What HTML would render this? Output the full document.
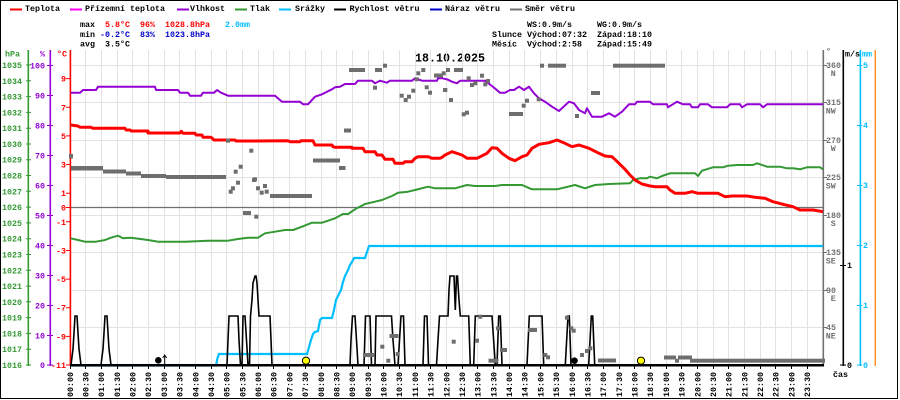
<!DOCTYPE html>
<html><head><meta charset="utf-8"><style>
html,body{margin:0;padding:0;background:#fff;}
svg{display:block;}
text{font-family:"Liberation Mono",monospace;font-size:8.33px;font-weight:bold;}
</style></head><body>
<svg width="900" height="400" viewBox="0 0 900 400" xmlns="http://www.w3.org/2000/svg">
<rect x="0" y="0" width="900" height="400" fill="#fff"/>
<!-- border -->
<rect x="0" y="0" width="898" height="1" fill="#000"/>
<rect x="0" y="0" width="1" height="399" fill="#000"/>
<rect x="897" y="0" width="1" height="399" fill="#000"/>
<rect x="0" y="398" width="898" height="1" fill="#000"/>

<!-- legend -->
<g>
<rect x="10" y="8.5" width="12" height="2" fill="#ff0000"/><text x="25" y="11">Teplota</text>
<rect x="70" y="8.5" width="12" height="2" fill="#ff00ff"/><text x="85" y="11">Přízemní teplota</text>
<rect x="177" y="8.5" width="12" height="2" fill="#9400d3"/><text x="190" y="11">Vlhkost</text>
<rect x="235" y="8.5" width="12" height="2" fill="#339933"/><text x="250" y="11">Tlak</text>
<rect x="279" y="8.5" width="12" height="2" fill="#00bfff"/><text x="295" y="11">Srážky</text>
<rect x="334" y="8.5" width="12" height="2" fill="#000000"/><text x="349.5" y="11">Rychlost větru</text>
<rect x="430" y="8.5" width="12" height="2" fill="#0000cc"/><text x="445" y="11">Náraz větru</text>
<rect x="510" y="8.5" width="12" height="2" fill="#707070"/><text x="525" y="11">Směr větru</text>
</g>

<!-- info -->
<text x="80" y="27">max</text>
<text x="105" y="27" fill="#ff0000">5.8°C</text>
<text x="140" y="27" fill="#ff0000">96%</text>
<text x="165" y="27" fill="#ff0000">1028.8hPa</text>
<text x="225" y="27" fill="#00bfff">2.0mm</text>
<text x="80" y="37">min</text>
<text x="100" y="37" fill="#0000cc">-0.2°C</text>
<text x="140" y="37" fill="#0000cc">83%</text>
<text x="165" y="37" fill="#0000cc">1023.8hPa</text>
<text x="80" y="46.5">avg</text>
<text x="105" y="46.5">3.5°C</text>

<text x="527" y="27">WS:0.9m/s</text>
<text x="597" y="27">WG:0.9m/s</text>
<text x="492" y="37">Slunce</text>
<text x="527" y="37">Východ:07:32</text>
<text x="597" y="37">Západ:18:10</text>
<text x="492" y="46.5">Měsíc</text>
<text x="527" y="46.5">Východ:2:58</text>
<text x="597" y="46.5">Západ:15:49</text>

<!-- title -->
<text x="415" y="61.5" style="font-size:11.67px;font-weight:bold">18.10.2025</text>

<!-- vertical grid -->
<path fill="none" stroke="#e2e2e2" stroke-width="1" d="M85.5 50V364M101.5 50V364M117.5 50V364M132.5 50V364M148.5 50V364M164.5 50V364M179.5 50V364M195.5 50V364M211.5 50V364M226.5 50V364M242.5 50V364M258.5 50V364M273.5 50V364M289.5 50V364M305.5 50V364M321.5 50V364M336.5 50V364M352.5 50V364M368.5 50V364M383.5 50V364M399.5 50V364M415.5 50V364M430.5 50V364M446.5 50V364M462.5 50V364M477.5 50V364M493.5 50V364M509.5 50V364M524.5 50V364M540.5 50V364M556.5 50V364M572.5 50V364M587.5 50V364M603.5 50V364M619.5 50V364M634.5 50V364M650.5 50V364M666.5 50V364M681.5 50V364M697.5 50V364M713.5 50V364M728.5 50V364M744.5 50V364M760.5 50V364M775.5 50V364M791.5 50V364M807.5 50V364"/>
<!-- horizontal grid -->
<path fill="none" stroke="#e2e2e2" stroke-width="1" d="M71 65.5H823M71 102.5H823M71 140.5H823M71 177.5H823M71 215.5H823M71 252.5H823M71 290.5H823M71 327.5H823"/>
<!-- 0 C line -->
<path d="M71 207.5H823" stroke="#707070" stroke-width="1.2"/>

<!-- left axes -->
<rect x="27.5" y="50" width="1.6" height="316" fill="#339933"/>
<rect x="49.5" y="50" width="1.6" height="316" fill="#9400d3"/>
<rect x="69.6" y="50" width="1.6" height="316" fill="#ff0000"/>
<path stroke="#339933" stroke-width="1" d="M26 65H31M26 80.8H31M26 96.6H31M26 112.4H31M26 128.2H31M26 144H31M26 159.7H31M26 175.5H31M26 191.3H31M26 207.1H31M26 222.9H31M26 238.7H31M26 254.5H31M26 270.3H31M26 286.1H31M26 301.8H31M26 317.6H31M26 333.4H31M26 349.2H31M26 365H31"/>
<path stroke="#9400d3" stroke-width="1" d="M47 65.5H53M47 95.5H53M47 125.5H53M47 155.5H53M47 185.5H53M47 215.5H53M47 245.5H53M47 275.5H53M47 305.5H53M47 335.5H53M47 365H53"/>
<path stroke="#ff0000" stroke-width="1" d="M66 78.6H70M66 107.3H70M66 135.9H70M66 164.5H70M66 193.2H70M66 207.5H70M66 221.8H70M66 250.5H70M66 279.1H70M66 307.7H70M66 336.4H70M66 365H70"/>

<text x="5" y="56.5" fill="#339933">hPa</text>
<text x="40" y="56.5" fill="#9400d3">%</text>
<text x="57" y="56.5" fill="#ff0000">°C</text>

<g fill="#339933" text-anchor="end">
<text x="22" y="68">1035</text><text x="22" y="83.8">1034</text><text x="22" y="99.6">1033</text><text x="22" y="115.4">1032</text><text x="22" y="131.2">1031</text><text x="22" y="147">1030</text><text x="22" y="162.7">1029</text><text x="22" y="178.5">1028</text><text x="22" y="194.3">1027</text><text x="22" y="210.1">1026</text><text x="22" y="225.9">1025</text><text x="22" y="241.7">1024</text><text x="22" y="257.5">1023</text><text x="22" y="273.3">1022</text><text x="22" y="289.1">1021</text><text x="22" y="304.8">1020</text><text x="22" y="320.6">1019</text><text x="22" y="336.4">1018</text><text x="22" y="352.2">1017</text><text x="22" y="368">1016</text>
</g>
<g fill="#9400d3" text-anchor="end">
<text x="45" y="68.5">100</text><text x="45" y="98.5">90</text><text x="45" y="128.5">80</text><text x="45" y="158.5">70</text><text x="45" y="188.5">60</text><text x="45" y="218.5">50</text><text x="45" y="248.5">40</text><text x="45" y="278.5">30</text><text x="45" y="308.5">20</text><text x="45" y="338.5">10</text><text x="45" y="368">0</text>
</g>
<g fill="#ff0000" text-anchor="end">
<text x="66" y="81.6">9</text><text x="66" y="110.3">7</text><text x="66" y="138.9">5</text><text x="66" y="167.5">3</text><text x="66" y="196.2">1</text><text x="66" y="210.5">0</text><text x="66" y="224.8">-1</text><text x="66" y="253.5">-3</text><text x="66" y="282.1">-5</text><text x="66" y="310.7">-7</text><text x="66" y="339.4">-9</text><text x="66" y="368">-11</text>
</g>

<!-- right axes -->
<rect x="822.5" y="50" width="1.6" height="316" fill="#707070"/>
<rect x="842.5" y="50" width="1.6" height="316" fill="#000"/>
<rect x="859.6" y="50" width="1.6" height="316" fill="#00bfff"/>
<rect x="874.6" y="50" width="1.4" height="316" fill="#ff8c1a"/>
<path stroke="#707070" stroke-width="1" d="M823 65.5H827M823 102.5H827M823 140.5H827M823 177.5H827M823 215.5H827M823 252.5H827M823 290.5H827M823 327.5H827"/>
<path stroke="#000" stroke-width="1" d="M840 265.5H846M840 365H846"/>
<path stroke="#00bfff" stroke-width="1" d="M857 65.5H862M857 125.5H862M857 185.5H862M857 245.5H862M857 305.5H862M857 365H862"/>
<text x="826" y="54" fill="#707070">°</text>
<text x="845" y="56.5">m/s</text>
<text x="862" y="56.5" fill="#00bfff">mm</text>
<g fill="#707070">
<text x="826" y="68">360</text><text x="835.8" y="76" text-anchor="end">N</text>
<text x="826" y="105">315</text><text x="835.8" y="113.5" text-anchor="end">NW</text>
<text x="826" y="143">270</text><text x="835.8" y="151" text-anchor="end">W</text>
<text x="826" y="180">225</text><text x="835.8" y="188.5" text-anchor="end">SW</text>
<text x="826" y="218">180</text><text x="835.8" y="226" text-anchor="end">S</text>
<text x="826" y="255">135</text><text x="835.8" y="263.5" text-anchor="end">SE</text>
<text x="826" y="293">90</text><text x="835.8" y="301" text-anchor="end">E</text>
<text x="826" y="330">45</text><text x="835.8" y="338.5" text-anchor="end">NE</text>
</g>
<text x="847" y="268">1</text>
<text x="847" y="368">0</text>
<g fill="#00bfff">
<text x="863" y="68">5</text><text x="863" y="128">4</text><text x="863" y="188">3</text><text x="863" y="248">2</text><text x="863" y="308">1</text><text x="863" y="368">0</text>
</g>
<text x="833" y="377">čas</text>

<!-- data: pressure -->
<polyline fill="none" stroke="#339933" stroke-width="2" stroke-linejoin="round" points="70.7,238.3 78,240 85,241.7 96,241.7 105,240 111,237.7 118,235.7 123,238.3 131,237.7 148,240 158,241.7 185,241.7 208,240.7 228,240.7 238,239 248,237.7 258,237.7 265,233.3 275,231.7 285,230 293,230 302,226.7 312,222.7 322,222.7 335,218.3 343,214 348,214 355,209.3 365,204 375,201.7 382,200 392,196 398,192.7 408,191.7 415,190 428,186.7 435,188.3 455,188.3 467,185 475,186 495,186 502,185 522,185 532,189.3 557,189.3 575,185 585,188.3 595,185 609,184 630,183.3 633,180 640,178.3 647,178.3 650,176.7 657,178.3 662,176 670,173.3 695,173.3 698,176 702,170.7 713,167.3 723,167.3 728,165.7 737,165 753,165 757,163.3 767,166.7 780,166.7 787,168.3 793,168.3 800,169.3 807,167.3 820,167.3 823,169.3"/>
<!-- humidity -->
<polyline fill="none" stroke="#9400d3" stroke-width="2" stroke-linejoin="round" points="70.7,92.7 80,92.7 83,90 96,90 98,86.7 155,86.7 156,90 178,90 180,92.7 188,92.7 190,95.7 201,95.7 203,92.7 214,92.7 217,90 221,92.7 228,95.7 275,95.7 282,101.7 300,101.7 303,104.3 308,104.3 315,96.7 322,94.3 327,91.7 332,89.3 335,87.3 340,86.7 345,84 355,84 358,80.7 372,80.7 375,83.3 380,80.7 387,82.7 390,80.7 412,80.7 415,78.3 422,80.7 437,80.7 438,78.3 442,78.3 447,79.3 452,81.7 457,83.3 460,80.7 485,80.7 492,86 500,92.7 505,92.7 510,90 514,90 519,86.7 524,90 529,86.7 534,93.3 539,98.3 545,101.7 552,106.7 559,111 569,101.7 574,103.3 579,110 585,113.3 587,108.3 592,116.7 602,116.7 609,113.3 615,116.7 622,111.7 629,104.3 635,104.3 637,101.7 650,101.7 653,104.3 667,104.3 668,107.3 677,101.7 683,104.3 690,104.3 692,107.3 698,107.3 700,104.3 708,104.3 712,107.3 727,107.3 730,104.3 740,104.3 742,107.3 747,104.3 760,104.3 763,107.3 767,104.3 823,104.3"/>
<!-- temperature -->
<polyline fill="none" stroke="#ff0000" stroke-width="3" stroke-linejoin="round" points="70.7,125 78,126 80,127.3 91,127.3 93,128.3 125,128.3 126,130 130,130 131.3,131 148,131 148,133 180,133 181.3,131.3 183,133.3 195,133.3 196,135 202,135 203,137.3 211,137.3 214,140 235,140 236,141 255,141 288,140.7 290,141.7 300,141.7 301,140.7 313,140.7 315,145 332,145 333,146.7 335,147.3 352,147.3 352,148.3 363,148.3 365,151.7 375,151.7 377,155 382,155 385,159.3 393,159.3 395,163.3 403,163.3 405,161.7 412,161.7 415,158.3 418,156.7 428,156.7 432,158.3 440,158.3 442,157.3 445,155 452,151.7 462,155 467,158.3 477,158.3 487,153.3 492,147.7 497,148.3 502,153.3 509,158.3 515,160.7 522,156.7 527,155 532,148.3 539,144.3 549,142.7 557,140 565,143.3 572,146.7 579,145 589,148.3 599,153.3 605,156 612,156.7 619,163.3 625,169.3 630,175 635,180 642,184 650,186 655,186.7 667,186.7 670,190 675,193.3 685,193.3 692,191.7 698,193.3 718,193.3 725,196.7 732,196 747,196 755,197.3 765,198.3 773,201.7 783,204.3 793,206.7 800,210 813,210 823,211.7"/>
<!-- rain -->
<polyline fill="none" stroke="#00bfff" stroke-width="2.2" points="71,365.5 216,365.5 217.5,358 219,354 307,354 309,347 311,340 313,334 315,332 318,331 320,320 322,318 332,318 334,310 336,300 338,296 341,290 343,282 345,276 348,270 350,265 352,262 354,258 365,258 367,252 369,246 823,246"/>

<!-- x axis -->
<rect x="70" y="364" width="754" height="2.5" fill="#000"/>
<path stroke="#000" stroke-width="1" d="M70.5 366V369M85.5 366V369M101.5 366V369M117.5 366V369M132.5 366V369M148.5 366V369M164.5 366V369M179.5 366V369M195.5 366V369M211.5 366V369M226.5 366V369M242.5 366V369M258.5 366V369M273.5 366V369M289.5 366V369M305.5 366V369M321.5 366V369M336.5 366V369M352.5 366V369M368.5 366V369M383.5 366V369M399.5 366V369M415.5 366V369M430.5 366V369M446.5 366V369M462.5 366V369M477.5 366V369M493.5 366V369M509.5 366V369M524.5 366V369M540.5 366V369M556.5 366V369M572.5 366V369M587.5 366V369M603.5 366V369M619.5 366V369M634.5 366V369M650.5 366V369M666.5 366V369M681.5 366V369M697.5 366V369M713.5 366V369M728.5 366V369M744.5 366V369M760.5 366V369M775.5 366V369M791.5 366V369M807.5 366V369"/>

<!-- wind speed -->
<polyline fill="none" stroke="#000" stroke-width="1.6" points="70.5,365 71,365 72,357 73,349 74,333 75,316 77,316 78,333 79,349 80,357 81,365 101,365 102,357 103,349 104,333 105,316 107,316 108,333 109,349 110,357 111,365 227,365 228,340 229,316 238,316 239,340 240.5,365 242,365 243,316 245,316 246.5,340 248,365 249.5,365 250.5,316 252,300 253,283 255,276 256,276 257,283 258,300 259,316 270,316 271,340 272,365 350,365 351,340 352.5,316 355,316 356.5,340 358,365 364,365 365.5,316 370,316 371.5,365 375,365 376,316 391.5,316 393,340 395,365 398,365 399.5,340 401,316 403.5,316 405,365 423,365 424.5,316 427,316 428.5,365 436.5,365 438,340 439.5,316 448,316 449,290 450,276 454,276 455.3,310 456.5,276 457.5,276 459,300 460.3,316 468.7,316 470.3,365 473.7,365 475.3,316 492,316 495.3,365 497,365 498.7,316 500.3,316 502,365 527,365 529.3,316 542,316 543.7,365 565.3,365 568,316 569.3,316 571,365 588.7,365 591.3,316 592.7,316 594.7,365 823,365"/>

<!-- wind direction -->
<g fill="#6e6e6e">
<rect x="69" y="154" width="4" height="4.5"/>
<rect x="71" y="166" width="32" height="4.5"/>
<rect x="103" y="169.5" width="23" height="4"/>
<rect x="126" y="171.5" width="15" height="4"/>
<rect x="141" y="174" width="25" height="4"/>
<rect x="166" y="175" width="60" height="4"/>
<rect x="226" y="138.7" width="4" height="4"/>
<rect x="228.7" y="189.7" width="4" height="4"/>
<rect x="231" y="186.3" width="4" height="4"/>
<rect x="233.7" y="169.7" width="4" height="4"/>
<rect x="236" y="180.7" width="4" height="4"/>
<rect x="238.7" y="164.7" width="4" height="4"/>
<rect x="249.3" y="148.7" width="4" height="4"/>
<rect x="252" y="178" width="4" height="4"/>
<rect x="256" y="186.3" width="4" height="4"/>
<rect x="243" y="211" width="8" height="4"/>
<rect x="254.3" y="214.7" width="4" height="4"/>
<rect x="253" y="177.3" width="4" height="4"/>
<rect x="259.7" y="190.7" width="4" height="4"/>
<rect x="263" y="184" width="4" height="4"/>
<rect x="264.7" y="189.7" width="4" height="4"/>
<rect x="270" y="194" width="42" height="4"/>
<rect x="313" y="158.5" width="27" height="4"/>
<rect x="339" y="166" width="6.5" height="4"/>
<rect x="344" y="128.5" width="7" height="4"/>
<rect x="349" y="68" width="16" height="4"/>
<rect x="373" y="85.7" width="4" height="4"/>
<rect x="375" y="68" width="7" height="4"/>
<rect x="383" y="63.7" width="4" height="4"/>
<rect x="399.7" y="93.7" width="4" height="4"/>
<rect x="403.7" y="98" width="4" height="4"/>
<rect x="407" y="94.7" width="4" height="4"/>
<rect x="411.3" y="88.7" width="4" height="4"/>
<rect x="414.7" y="77.3" width="4" height="4"/>
<rect x="416.3" y="71.3" width="4" height="4"/>
<rect x="421.3" y="68" width="4" height="4"/>
<rect x="424.7" y="85.3" width="4" height="4"/>
<rect x="428" y="90.7" width="4" height="4"/>
<rect x="434" y="73.5" width="9" height="4"/>
<rect x="443" y="88" width="4" height="4"/>
<rect x="363" y="353" width="11" height="4"/>
<rect x="380.3" y="344.7" width="4" height="4"/>
<rect x="386.3" y="358.7" width="4" height="4"/>
<rect x="389.5" y="334" width="9" height="4"/>
<rect x="395.7" y="352" width="4" height="4"/>
<rect x="441.7" y="71.3" width="4" height="4"/>
<rect x="446" y="68" width="4" height="4"/>
<rect x="454" y="68" width="9" height="4"/>
<rect x="443.3" y="88" width="4" height="4"/>
<rect x="449" y="98" width="4" height="4"/>
<rect x="466.7" y="76.3" width="4" height="4"/>
<rect x="470" y="83" width="4" height="4"/>
<rect x="473.3" y="81.3" width="4" height="4"/>
<rect x="480" y="73.7" width="4" height="4"/>
<rect x="483.3" y="82.3" width="4" height="4"/>
<rect x="486" y="79" width="4" height="4"/>
<rect x="461.7" y="112.3" width="4" height="4"/>
<rect x="465" y="110.7" width="4" height="4"/>
<rect x="509" y="112" width="14" height="4"/>
<rect x="521.7" y="103.7" width="4" height="4"/>
<rect x="525" y="98.7" width="4" height="4"/>
<rect x="536.7" y="97.3" width="4" height="4"/>
<rect x="540" y="63.7" width="4" height="4"/>
<rect x="548" y="63.7" width="18" height="4"/>
<rect x="575" y="114" width="4" height="4"/>
<rect x="591" y="91" width="9" height="4"/>
<rect x="613" y="63.7" width="52" height="4"/>
<rect x="451.7" y="339.7" width="4" height="4"/>
<rect x="478.3" y="314.7" width="4" height="4"/>
<rect x="475" y="338.7" width="4" height="4"/>
<rect x="488.5" y="358.7" width="10" height="4"/>
<rect x="496" y="326.3" width="4" height="4"/>
<rect x="500" y="348" width="7" height="4"/>
<rect x="528" y="328" width="9" height="4"/>
<rect x="543.3" y="353" width="4" height="4"/>
<rect x="546" y="355.3" width="4" height="4"/>
<rect x="565" y="315.7" width="4" height="4"/>
<rect x="569.3" y="326.3" width="4" height="4"/>
<rect x="571.7" y="328.7" width="4" height="4"/>
<rect x="580" y="353" width="4" height="4"/>
<rect x="585" y="349" width="4" height="4"/>
<rect x="588.3" y="346.3" width="4" height="4"/>
<rect x="598" y="358.5" width="18" height="4"/>
<rect x="664" y="355.5" width="12" height="4"/>
<rect x="675" y="358.7" width="4" height="4"/>
<rect x="678" y="355.5" width="14" height="4"/>
<rect x="690" y="358.7" width="135" height="4"/>
</g>

<!-- sun / moon markers -->
<circle cx="158.3" cy="360.3" r="3.3" fill="#000"/>
<path d="M164.7 365V356" stroke="#000" stroke-width="1"/>
<path d="M162.7 358L164.7 355L166.7 358" fill="none" stroke="#000" stroke-width="1"/>
<circle cx="574.5" cy="360.7" r="3.3" fill="#000"/>
<circle cx="306" cy="360.7" r="3.6" fill="#ffff00" stroke="#000" stroke-width="1"/>
<circle cx="641" cy="360.7" r="3.6" fill="#ffff00" stroke="#000" stroke-width="1"/>

<!-- time labels -->
<g>
<text transform="translate(72.8,397) rotate(-90)">00:00</text>
<text transform="translate(88.5,397) rotate(-90)">00:30</text>
<text transform="translate(104.2,397) rotate(-90)">01:00</text>
<text transform="translate(119.9,397) rotate(-90)">01:30</text>
<text transform="translate(135.6,397) rotate(-90)">02:00</text>
<text transform="translate(151.2,397) rotate(-90)">02:30</text>
<text transform="translate(166.9,397) rotate(-90)">03:00</text>
<text transform="translate(182.6,397) rotate(-90)">03:30</text>
<text transform="translate(198.3,397) rotate(-90)">04:00</text>
<text transform="translate(214,397) rotate(-90)">04:30</text>
<text transform="translate(229.7,397) rotate(-90)">05:00</text>
<text transform="translate(245.4,397) rotate(-90)">05:30</text>
<text transform="translate(261,397) rotate(-90)">06:00</text>
<text transform="translate(276.7,397) rotate(-90)">06:30</text>
<text transform="translate(292.4,397) rotate(-90)">07:00</text>
<text transform="translate(308.1,397) rotate(-90)">07:30</text>
<text transform="translate(323.8,397) rotate(-90)">08:00</text>
<text transform="translate(339.5,397) rotate(-90)">08:30</text>
<text transform="translate(355.2,397) rotate(-90)">09:00</text>
<text transform="translate(370.9,397) rotate(-90)">09:30</text>
<text transform="translate(386.6,397) rotate(-90)">10:00</text>
<text transform="translate(402.2,397) rotate(-90)">10:30</text>
<text transform="translate(417.9,397) rotate(-90)">11:00</text>
<text transform="translate(433.6,397) rotate(-90)">11:30</text>
<text transform="translate(449.3,397) rotate(-90)">12:00</text>
<text transform="translate(465,397) rotate(-90)">12:30</text>
<text transform="translate(480.7,397) rotate(-90)">13:00</text>
<text transform="translate(496.4,397) rotate(-90)">13:30</text>
<text transform="translate(512,397) rotate(-90)">14:00</text>
<text transform="translate(527.7,397) rotate(-90)">14:30</text>
<text transform="translate(543.4,397) rotate(-90)">15:00</text>
<text transform="translate(559.1,397) rotate(-90)">15:30</text>
<text transform="translate(574.8,397) rotate(-90)">16:00</text>
<text transform="translate(590.5,397) rotate(-90)">16:30</text>
<text transform="translate(606.2,397) rotate(-90)">17:00</text>
<text transform="translate(621.9,397) rotate(-90)">17:30</text>
<text transform="translate(637.6,397) rotate(-90)">18:00</text>
<text transform="translate(653.2,397) rotate(-90)">18:30</text>
<text transform="translate(668.9,397) rotate(-90)">19:00</text>
<text transform="translate(684.6,397) rotate(-90)">19:30</text>
<text transform="translate(700.3,397) rotate(-90)">20:00</text>
<text transform="translate(716,397) rotate(-90)">20:30</text>
<text transform="translate(731.7,397) rotate(-90)">21:00</text>
<text transform="translate(747.4,397) rotate(-90)">21:30</text>
<text transform="translate(763,397) rotate(-90)">22:00</text>
<text transform="translate(778.7,397) rotate(-90)">22:30</text>
<text transform="translate(794.4,397) rotate(-90)">23:00</text>
<text transform="translate(810.1,397) rotate(-90)">23:30</text>
</g>
</svg>
</body></html>
